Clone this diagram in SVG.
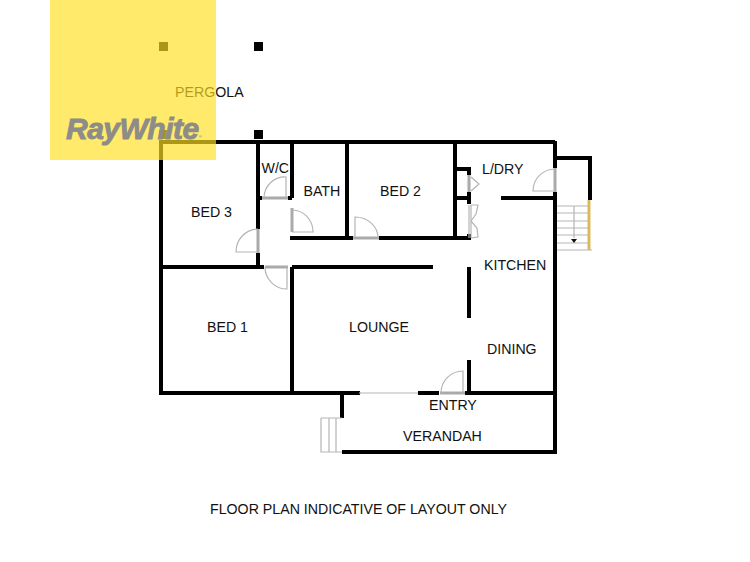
<svg xmlns="http://www.w3.org/2000/svg" width="750" height="562" viewBox="0 0 750 562">
<style>
text{font-family:"Liberation Sans",Arial,sans-serif;font-size:14.2px;fill:#111}
.w{stroke:#000;stroke-width:4;fill:none;stroke-linecap:butt}
.g{stroke:#aaa;stroke-width:3;fill:none}
.l{stroke:#b5b5b5;stroke-width:1.2;fill:none}
.p{fill:#000}
</style>
<rect width="750" height="562" fill="#fff"/>
<g id="walls">
<path class="w" d="M160 142H555M161 140V395M159 393H292M258 141V229M258 253V269M292 141V198M347 141V240M290 238H353M379 238H470M160 267H264M292 267H433M292 267V393M455 141V240M455 169H471M469 167V175M469 192V204M455 198H471M469 234V240M555 141V168M555 192V454M501 198H555M555 158H590V200M469 267V318M469 360V393M290 393H360M418 393H439M465 393H557M342 393V418M342 452H557M258 198H262M288 198H292"/>
<rect class="p" x="159" y="130" width="8" height="9"/>
<rect class="p" x="254" y="130" width="9" height="9"/>
<rect class="p" x="159" y="42" width="9" height="9"/>
<rect class="p" x="254" y="42" width="9" height="9"/>
</g>
<g id="doors">
<path class="g" d="M262 198H288M292 208V232M353 238H379M258 229V253M265 267H288M555 168V192M440 393H465M469 175V192"/>
<path class="l" d="M286 198V177A21 21 0 0 0 264 198M292 232H313A21 22 0 0 0 292 210M355 238V217A23 21 0 0 1 378 238M258 252H236A22 23 0 0 1 258 229M287 267V289A22 22 0 0 1 265 267M555 191H533A22 22 0 0 1 555 169M463 393V371A22 22 0 0 0 441 393M360 393H418M360 392V394"/>
<path class="l" d="M469 205V238M471 205V238M471 177L479 184L471 191M471 205L478 205L476 214L471 221M471 238L478 237L477 228L471 221"/>
</g>
<g id="stairs">
<path class="l" d="M557 206H590M557 213H590M557 221H590M557 228H590M557 235H590M557 243H590M557 250H592M574 206V238"/>
<path d="M571 239H577L574 243Z" fill="#111"/>
<path d="M589 200V250" stroke="#dcb95a" stroke-width="3" fill="none"/>
<path class="l" d="M321 418H342M321 418V452H342M329 418V452M336 418V452"/>
</g>
<g id="pergola"><text x="175" y="97">PERGOLA</text></g>
<g id="bed3"><text x="191" y="217">BED 3</text></g>
<g id="wc"><text x="261.500" y="173">W/C</text></g>
<g id="bath"><text x="303.500" y="196">BATH</text></g>
<g id="bed2"><text x="380" y="196">BED 2</text></g>
<g id="ldry"><text x="482" y="174">L/DRY</text></g>
<g id="kitchen"><text x="484" y="270">KITCHEN</text></g>
<g id="bed1"><text x="207" y="332">BED 1</text></g>
<g id="lounge"><text x="349" y="332">LOUNGE</text></g>
<g id="dining"><text x="487" y="354">DINING</text></g>
<g id="entry"><text x="429" y="410">ENTRY</text></g>
<g id="verandah"><text x="403" y="441">VERANDAH</text></g>
<g id="caption"><text x="210" y="514">FLOOR PLAN INDICATIVE OF LAYOUT ONLY</text></g>
<g id="logo">
<rect x="50" y="0" width="166" height="160" fill="#ffe023" fill-opacity=".67"/>
<text x="66" y="139" style="font-size:30px;font-weight:bold;font-style:italic;fill:#8d8c88;stroke:#8d8c88;stroke-width:.9px;letter-spacing:-.5px">RayWhite<tspan style="font-size:4px;stroke-width:0" dy="-1">®</tspan></text>
</g>
</svg>
